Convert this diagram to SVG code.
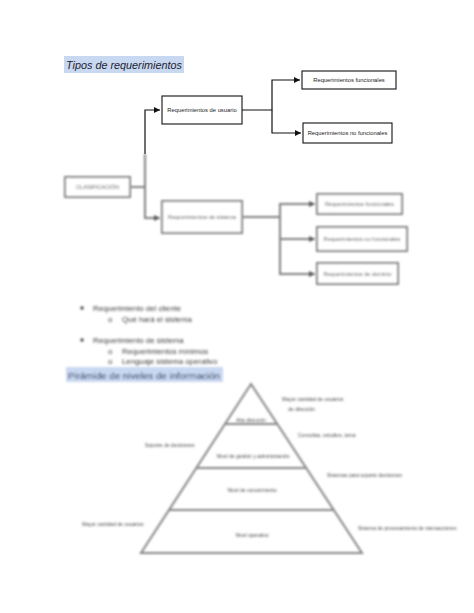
<svg xmlns="http://www.w3.org/2000/svg" width="474" height="613" viewBox="0 0 474 613">
<style>
  .title{font-family:"Liberation Sans","DejaVu Sans",sans-serif;font-style:italic;font-size:11.5px;fill:#1c1c30}
  .box{fill:#fff;stroke:#111;stroke-width:1.1}
  .bbox{fill:#fff;stroke:#808080;stroke-width:2}
  .t{font-family:"Liberation Sans",Arial,sans-serif;font-size:5.8px;fill:#222;text-anchor:middle}
  .bt{font-family:"Liberation Sans",Arial,sans-serif;font-size:5.6px;fill:#555;text-anchor:middle}
  .conn{fill:none;stroke:#111;stroke-width:1.2}
  .bconn{fill:none;stroke:#808080;stroke-width:2}
  .list{font-family:"Liberation Sans",Arial,sans-serif;font-size:7.8px;fill:#3c3c3c}
  .pyr{fill:none;stroke:#858585;stroke-width:2}
  .pl{font-family:"Liberation Sans",Arial,sans-serif;font-size:5px;fill:#4a4a4a}
</style>
<defs>
  <marker id="arr" markerUnits="userSpaceOnUse" markerWidth="6" markerHeight="6" refX="6" refY="3" orient="auto">
    <path d="M0,0 L6,3 L0,6 z" fill="#111"/>
  </marker>
  <marker id="barr" markerUnits="userSpaceOnUse" markerWidth="6" markerHeight="6" refX="6" refY="3" orient="auto">
    <path d="M0,0 L6,3 L0,6 z" fill="#555"/>
  </marker>
  <filter id="blur" filterUnits="userSpaceOnUse" x="0" y="140" width="474" height="473">
    <feGaussianBlur stdDeviation="0.9"/>
  </filter>
</defs>

<!-- Title -->
<g id="title">
  <rect x="64" y="56" width="120" height="17" fill="#c9d8f1"/>
  <text class="title" x="66" y="69" textLength="116" lengthAdjust="spacingAndGlyphs">Tipos de requerimientos</text>
</g>

<!-- Connectors -->
<g id="connectors">
  <path class="conn" d="M145,154 V110 H160" marker-end="url(#arr)"/>
  <path class="conn" d="M242,110 H272 V80 H300" marker-end="url(#arr)"/>
  <path class="conn" d="M272,110 V133 H301" marker-end="url(#arr)"/>
  <g filter="url(#blur)">
    <path class="bconn" d="M130,187 H145 V154"/>
    <path class="bconn" d="M145,187 V218 H160" marker-end="url(#barr)"/>
    <path class="bconn" d="M242,217 H280 V204 H315" marker-end="url(#barr)"/>
    <path class="bconn" d="M280,217 V239 H315" marker-end="url(#barr)"/>
    <path class="bconn" d="M280,239 V274 H315" marker-end="url(#barr)"/>
  </g>
</g>

<!-- Clear nodes -->
<g id="usuario">
  <rect class="box" x="162" y="96" width="80" height="28"/>
  <text class="t" x="202" y="112">Requerimientos de usuario</text>
</g>
<g id="funcionales">
  <rect class="box" x="302" y="71" width="94" height="18"/>
  <text class="t" x="349" y="82">Requerimientos funcionales</text>
</g>
<g id="nofuncionales">
  <rect class="box" x="303" y="123" width="89" height="20"/>
  <text class="t" x="347.5" y="135">Requerimientos no funcionales</text>
</g>

<!-- Blurred nodes -->
<g filter="url(#blur)">
  <g id="clasificacion">
    <rect class="bbox" x="65" y="177" width="65" height="20"/>
    <text class="bt" x="97.5" y="189">CLASIFICACIÓN</text>
  </g>
  <g id="sistema">
    <rect class="bbox" x="162" y="201" width="80" height="32"/>
    <text class="bt" x="202" y="219">Requerimientos de sistema</text>
  </g>
  <g id="sfuncionales">
    <rect class="bbox" x="317" y="194" width="85" height="20"/>
    <text class="bt" x="359.5" y="206">Requerimientos funcionales</text>
  </g>
  <g id="snofuncionales">
    <rect class="bbox" x="317" y="227" width="90" height="24"/>
    <text class="bt" x="362" y="241">Requerimientos no funcionales</text>
  </g>
  <g id="sdominio">
    <rect class="bbox" x="317" y="263" width="81" height="21"/>
    <text class="bt" x="357.5" y="276">Requerimientos de dominio</text>
  </g>

  <!-- Bullet list -->
  <g id="list">
    <circle cx="82" cy="308" r="1.7" fill="#444"/>
    <text class="list" x="93" y="311">Requerimiento del cliente</text>
    <text class="list" x="108" y="322">o</text>
    <text class="list" x="122" y="322">Qué hará el sistema</text>
    <circle cx="82" cy="340" r="1.7" fill="#444"/>
    <text class="list" x="93" y="343">Requerimiento de sistema</text>
    <text class="list" x="108" y="354">o</text>
    <text class="list" x="122" y="354">Requerimientos mínimos</text>
    <text class="list" x="108" y="364">o</text>
    <text class="list" x="122" y="364">Lenguaje sistema operativo</text>
  </g>

  <g id="heading2">
    <rect x="66" y="367" width="157" height="15" fill="#c9d8f1"/>
    <text x="68" y="378.5" font-family="Liberation Sans, Arial, sans-serif" font-size="9.5" fill="#1f2d55" textLength="152" lengthAdjust="spacingAndGlyphs">Pirámide de niveles de información</text>
  </g>

  <!-- Pyramid -->
  <g id="pyramid">
    <path class="pyr" d="M251,384 L141,553 H362 Z"/>
    <line class="pyr" x1="225" y1="424" x2="277" y2="424"/>
    <line class="pyr" x1="197" y1="468" x2="305" y2="468"/>
    <line class="pyr" x1="168" y1="510" x2="333" y2="510"/>
    <text class="pl" x="251" y="422" text-anchor="middle">Alta dirección</text>
    <text class="pl" x="253" y="457.5" text-anchor="middle">Nivel de gestión y administración</text>
    <text class="pl" x="252" y="491.5" text-anchor="middle">Nivel de conocimiento</text>
    <text class="pl" x="252" y="536.5" text-anchor="middle">Nivel operativo</text>
  </g>
  <g id="pyrlabels">
    <text class="pl" x="282" y="400.5">Mayor cantidad de usuarios</text>
    <text class="pl" x="288" y="410.5">de dirección</text>
    <text class="pl" x="298" y="436.5">Consultas, estudios, toma</text>
    <text class="pl" x="327" y="476.5">Sistemas para soporte decisiones</text>
    <text class="pl" x="358" y="529.5">Sistema de procesamiento de transacciones</text>
    <text class="pl" x="145" y="446.5">Soporte de decisiones</text>
    <text class="pl" x="82" y="525.5">Mayor cantidad de usuarios</text>
  </g>
</g>
</svg>
